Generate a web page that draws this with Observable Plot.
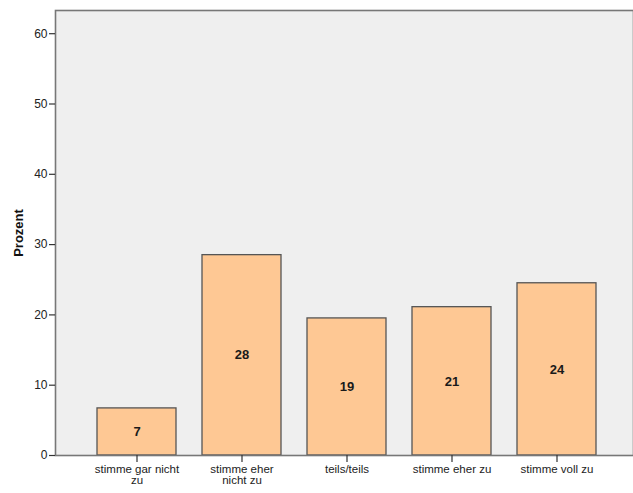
<!DOCTYPE html>
<html>
<head>
<meta charset="utf-8">
<script src="https://cdn.jsdelivr.net/npm/d3@7"></script>
<script src="https://cdn.jsdelivr.net/npm/@observablehq/plot@0.6"></script>
<style>
  html, body { margin: 0; padding: 0; background: #fff; }
  #chart svg { display: block; }
</style>
</head>
<body>
<div id="chart"></div>
<script>
const categories = ["stimme gar nicht\nzu", "stimme eher\nnicht zu", "teils/teils", "stimme eher zu", "stimme voll zu"];
const values = [6.7, 28.5, 19.5, 21.1, 24.5];
const labels = ["7", "28", "19", "21", "24"];
const yTicks = [0, 10, 20, 30, 40, 50, 60];
const yMax = 63.3;

const data = categories.map((c, i) => ({cat: c, value: values[i], label: labels[i]}));

const chart = Plot.plot({
  width: 633,
  height: 493,
  marginTop: 10,
  marginBottom: 38,
  marginLeft: 55,
  marginRight: 0,
  style: {fontFamily: "Liberation Sans, Arial, sans-serif", background: "#fff", color: "#222"},
  x: {domain: categories, paddingInner: 0.245, paddingOuter: 0.35, align: 0.53, label: null},
  y: {domain: [0, yMax], label: null},
  marks: [
    Plot.frame({fill: "#efefef", stroke: null}),
    Plot.barY(data, {x: "cat", y: "value", fill: "#fec894", stroke: "#555", strokeWidth: 1.3}),
    Plot.text(data, {x: "cat", y: d => d.value / 2, text: "label", fontSize: 13, fontWeight: "bold", fill: "#1a1a1a"}),
    Plot.frame({stroke: "#777", strokeWidth: 1.6}),
    Plot.axisY({ticks: yTicks, tickSize: 6, tickPadding: 2, fontSize: 12, stroke: "#333", strokeWidth: 1.2, label: null}),
    Plot.axisX({tickSize: 7, tickPadding: 2, fontSize: 11.5, stroke: "#333", strokeWidth: 1.2, label: null, lineHeight: 0.98}),
    Plot.text(["Prozent"], {frameAnchor: "left", textAnchor: "middle", dx: -37, rotate: -90, fontSize: 13, fontWeight: "bold", fill: "#111"})
  ]
});
document.getElementById("chart").appendChild(chart);
</script>
</body>
</html>
